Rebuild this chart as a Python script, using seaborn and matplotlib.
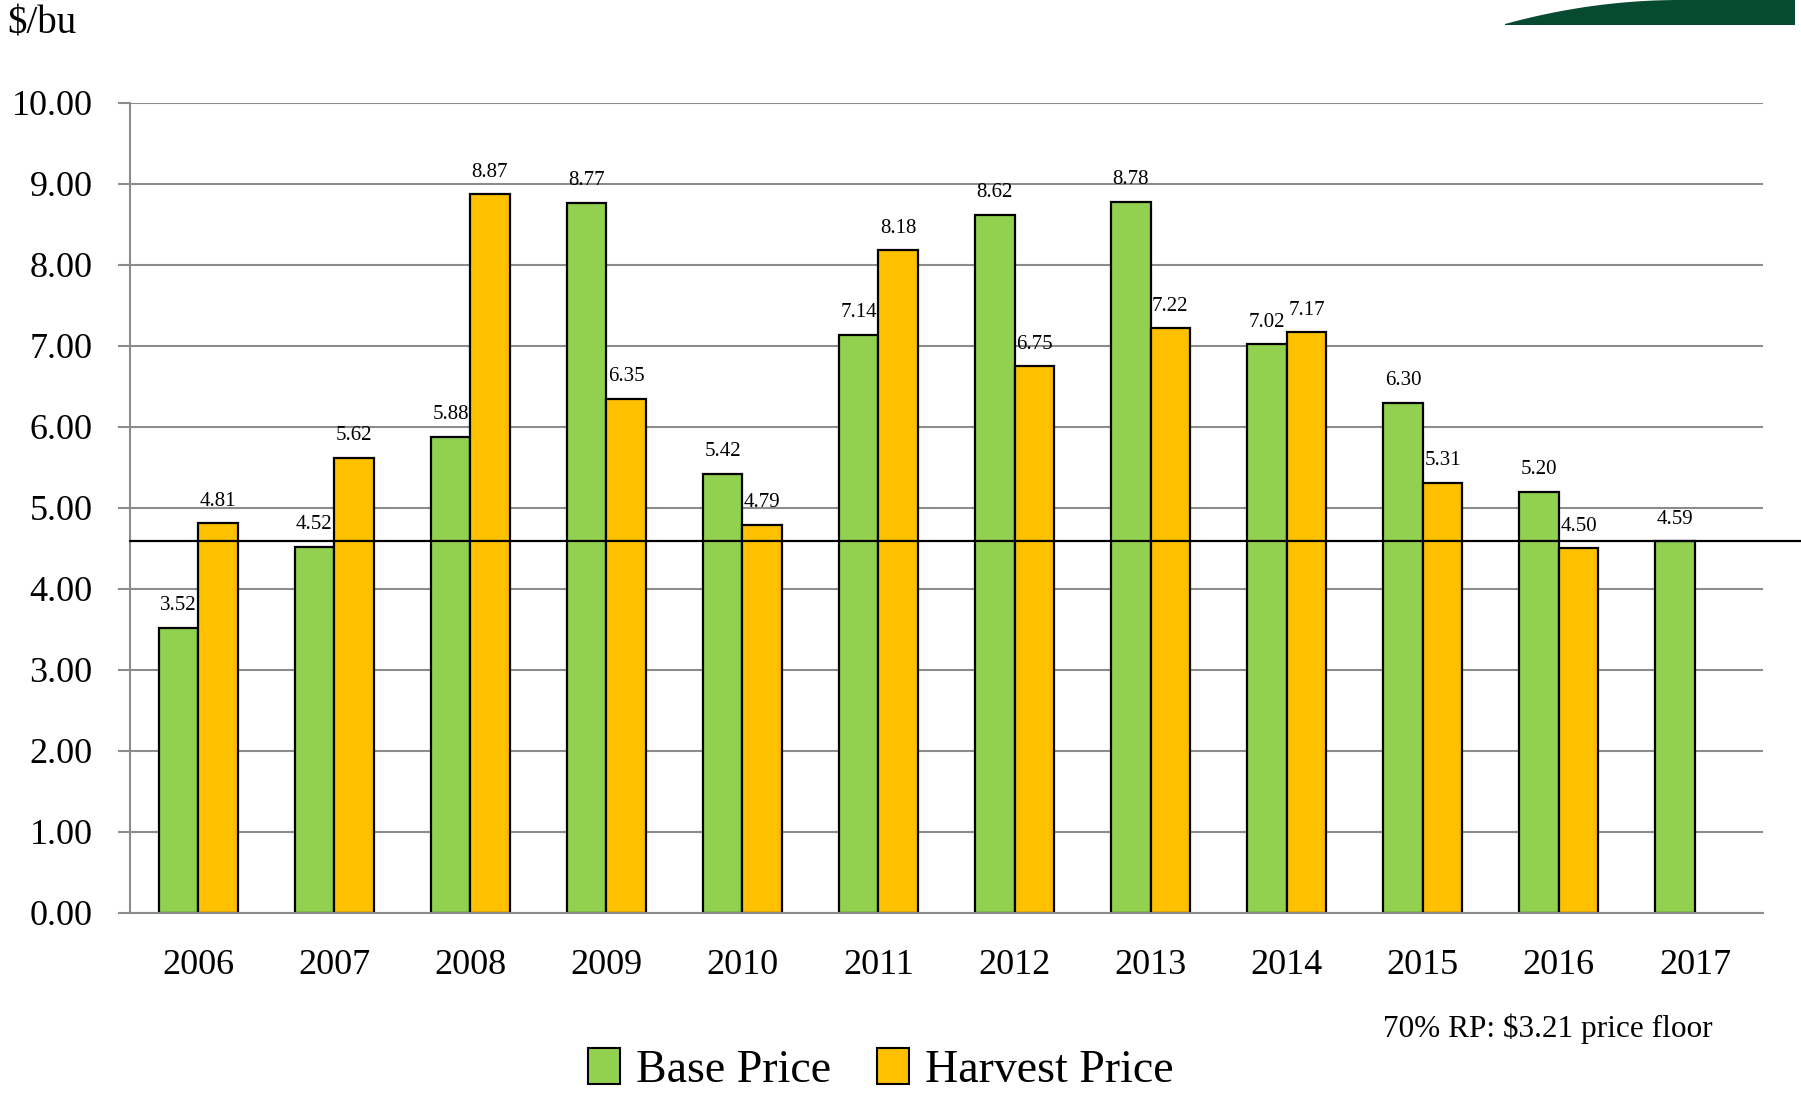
import numpy as np
import pandas as pd
import matplotlib.pyplot as plt
import seaborn as sns
from matplotlib.patches import Polygon

# values
years = ['2006', '2007', '2008', '2009', '2010', '2011',
         '2012', '2013', '2014', '2015', '2016', '2017']
base_price = [3.52, 4.52, 5.88, 8.77, 5.42, 7.14, 8.62, 8.78, 7.02, 6.30, 5.20, 4.59]
harvest_price = [4.81, 5.62, 8.87, 6.35, 4.79, 8.18, 6.75, 7.22, 7.17, 5.31, 4.50, np.nan]
series_names = ['Base Price', 'Harvest Price']
y_ticks = [0, 1, 2, 3, 4, 5, 6, 7, 8, 9, 10]
note = '70% RP: $3.21 price floor'
unit = '$/bu'

colors = ['#92D050', '#FFC000']


def main():
    sns.set_style('white')
    plt.rcParams['font.family'] = ['Liberation Serif', 'DejaVu Serif']
    plt.rcParams['text.color'] = 'black'
    plt.rcParams['xtick.labelcolor'] = 'black'
    plt.rcParams['ytick.labelcolor'] = 'black'

    df = pd.DataFrame({
        'year': years * 2,
        'price': base_price + harvest_price,
        'series': [series_names[0]] * len(years) + [series_names[1]] * len(years),
    })

    fig = plt.figure(figsize=(18.01, 10.94), dpi=100)
    ax = fig.add_axes([0.0722, 0.1655, 0.9067, 0.7404])

    sns.barplot(data=df, x='year', y='price', hue='series', order=years,
                hue_order=series_names, palette=colors, width=0.58,
                errorbar=None, edgecolor='black', linewidth=1.6,
                saturation=1, ax=ax, legend=False)

    # value labels over each bar
    for cont in ax.containers:
        labels = ['' if np.isnan(b.get_height()) else f'{b.get_height():.2f}'
                  for b in cont]
        ax.bar_label(cont, labels=labels, padding=9, fontsize=15, color='black')

    ax.set_xlim(-0.5, len(years) - 0.5)
    ax.set_ylim(0, 10)
    ax.set_yticks(y_ticks)
    ax.set_yticklabels([f'{v:.2f}' for v in y_ticks], fontsize=26)
    ax.set_xticks(range(len(years)))
    ax.set_xticklabels(years, fontsize=26)
    ax.set_xticks(np.arange(-0.5, len(years)), minor=True)
    ax.tick_params(axis='x', which='major', length=0, pad=26)
    ax.tick_params(axis='x', which='minor', length=9, width=1.5, color='#8c8c8c')
    ax.tick_params(axis='y', length=9, width=1.5, color='#8c8c8c', pad=18, left=True)
    ax.set_xlabel('')
    ax.set_ylabel('')

    ax.yaxis.grid(True, color='#8c8c8c', linewidth=1.5)
    ax.set_axisbelow(True)
    for side in ['top', 'right']:
        ax.spines[side].set_visible(False)
    for side in ['left', 'bottom']:
        ax.spines[side].set_color('#8c8c8c')
        ax.spines[side].set_linewidth(1.5)

    # reference line at the 2017 base price, runs past the plot edge
    ax.plot([-0.5, len(years)], [base_price[-1]] * 2, color='black',
            linewidth=1.6, clip_on=False, zorder=5)

    # legend at the bottom
    handles = [plt.Rectangle((0, 0), 1, 1, facecolor=c, edgecolor='black', linewidth=1.5)
               for c in colors]
    fig.legend(handles, series_names, loc='center', bbox_to_anchor=(0.489, 0.022),
               ncol=2, frameon=False, fontsize=33, handlelength=0.7,
               handleheight=0.85, handletextpad=0.35, columnspacing=1.0)

    fig.text(0.768, 0.06, note, fontsize=22.5, va='center', ha='left')
    fig.text(0.004, 0.978, unit, fontsize=28, va='center', ha='left')

    # green swoosh in the top right corner
    xs = np.linspace(1505, 1795, 40)
    top = 1094 - np.clip(24 * (1 - (xs - 1505) / 175) ** 2 * ((xs - 1505) <= 175), 0, 24)
    top[0] = 1094 - 24
    pts = [(1505 / 1801, (1094 - 25) / 1094)] + list(zip(xs / 1801, top / 1094)) + \
          [(1795 / 1801, (1094 - 25) / 1094)]
    fig.patches.append(Polygon(pts, closed=True, transform=fig.transFigure,
                               facecolor='#054a31', edgecolor='none'))

    fig.savefig('out.png', dpi=100)


if __name__ == '__main__':
    main()
